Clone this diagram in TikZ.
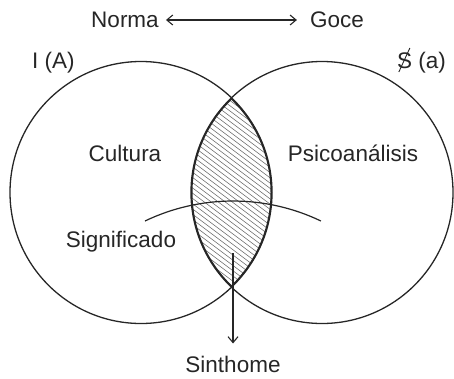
\documentclass[tikz,border=0pt]{standalone}
\usepackage{fontspec}
\setmainfont{Liberation Sans}
\usetikzlibrary{arrows.meta}
\begin{document}
\begin{tikzpicture}[x=1pt,y=-1pt,
  lbl/.style={inner sep=0pt, anchor=base, font=\fontsize{22.5}{27}\selectfont, text=black!85},
  ring/.style={draw=black!85, line width=1.3pt},
  hatch/.style={draw=black!55, line width=0.6pt},
  arr/.style={draw=black!85, line width=1.1pt, -{Straight Barb[length=6pt,width=10pt,line width=1.1pt]}},
  darr/.style={draw=black!85, line width=1.1pt, {Straight Barb[length=6pt,width=10pt,line width=1.1pt]}-{Straight Barb[length=6pt,width=10pt,line width=1.1pt]}}]
\useasboundingbox (0,0) rectangle (454,378);
% centers
\coordinate (cl) at (141,192.5);
\coordinate (cr) at (322,192.5);
% hatching in lens
\begin{scope}
  \clip (cl) circle (131);
  \clip (cr) circle (131);
  \foreach \i in {-300,-293,...,300} {
    \draw[hatch] (\i,60) -- ++(400,300);
  }
  \draw[ring, line width=3pt] (cl) circle (131);
  \draw[ring, line width=3pt] (cr) circle (131);
\end{scope}
% circles
\draw[ring] (cl) circle (131);
\draw[ring] (cr) circle (131);
% significado arc
\coordinate (arcstart) at (145,221);
\draw[ring, line width=1.2pt] (arcstart) arc[start angle=-115.6, end angle=-64.4, radius=203.6];
% labels
\node[lbl] (norma) at (125,27) {Norma};
\node[lbl] (goce) at (337,27) {Goce};
\node[lbl, anchor=base west] (ia) at (32,68) {I (A)};
\node[lbl, anchor=base east] (sa) at (446,68) {S (a)};
\node[lbl] (cultura) at (125,161) {Cultura};
\node[lbl] (psico) at (353,161) {Psicoanálisis};
\node[lbl] (signif) at (121,247) {Significado};
\node[lbl] (sinthome) at (233,372) {Sinthome};
% slash through S
\coordinate (slA) at ([xshift=2pt,yshift=-4pt]sa.base west);
\coordinate (slB) at ([xshift=13pt,yshift=20pt]sa.base west);
\draw[black!85, line width=0.9pt] (slA) -- (slB);
% arrows
\draw[darr] ([xshift=7pt,yshift=7pt]norma.base east) -- ([xshift=-13pt,yshift=7pt]goce.base west);
\coordinate (sstart) at (233,253);
\draw[arr, shorten >=12pt] (sstart) -- (sinthome.north);
\end{tikzpicture}
\end{document}
